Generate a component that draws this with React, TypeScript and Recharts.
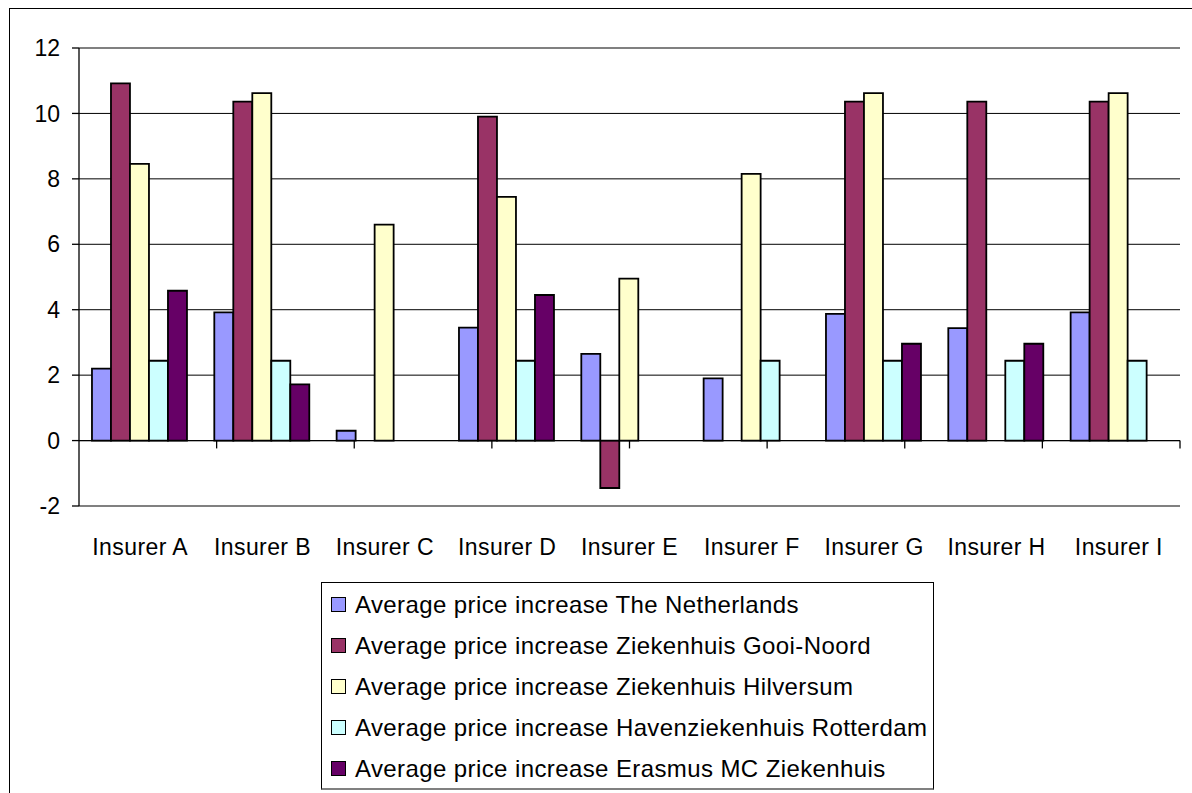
import React from 'react';
import { BarChart, Bar, XAxis, YAxis, CartesianGrid, ReferenceLine, Legend } from 'recharts';

const categories = ['Insurer A', 'Insurer B', 'Insurer C', 'Insurer D', 'Insurer E', 'Insurer F', 'Insurer G', 'Insurer H', 'Insurer I'];
const netherlands = [2.2, 3.92, 0.3, 3.45, 2.65, 1.9, 3.87, 3.44, 3.92];
const gooiNoord = [10.92, 10.36, null, 9.9, -1.45, null, 10.36, 10.36, 10.36];
const hilversum = [8.46, 10.62, 6.6, 7.45, 4.95, 8.15, 10.62, null, 10.62];
const havenziekenhuis = [2.44, 2.44, null, 2.44, null, 2.44, 2.44, 2.44, 2.44];
const erasmus = [4.58, 1.72, null, 4.45, null, null, 2.96, 2.96, null];
const yTicks = [-2, 0, 2, 4, 6, 8, 10, 12];
const boundaries = [1, 2, 3, 4, 5, 6, 7, 8, 9];

const seriesNames = [
  'Average price increase The Netherlands',
  'Average price increase Ziekenhuis Gooi-Noord',
  'Average price increase Ziekenhuis Hilversum',
  'Average price increase Havenziekenhuis Rotterdam',
  'Average price increase Erasmus MC Ziekenhuis',
];
const colors = ['#9999FF', '#993366', '#FFFFCC', '#CCFFFF', '#660066'];

const data = categories.map((c, i) => ({
  name: c,
  s0: netherlands[i],
  s1: gooiNoord[i],
  s2: hilversum[i],
  s3: havenziekenhuis[i],
  s4: erasmus[i],
}));

const FONT = "Arial, 'Liberation Sans', sans-serif";

const LegendContent = (props: any) => {
  const payload = [...(props.payload || [])].sort(
    (a: any, b: any) => seriesNames.indexOf(a.value) - seriesNames.indexOf(b.value)
  );
  return (
    <div
      style={{
        width: 613,
        height: 208,
        boxSizing: 'border-box',
        border: '1px solid #000',
        borderBottom: '2px solid #808080',
        paddingTop: 1,
        background: '#fff',
        fontFamily: FONT,
      }}
    >
      {payload.map((p: any, i: number) => (
        <div key={i} style={{ height: 41, display: 'flex', alignItems: 'center', paddingLeft: 9 }}>
          <span
            style={{
              display: 'inline-block',
              width: 13,
              height: 13,
              background: p.color,
              border: '1px solid #000',
              marginRight: 9,
            }}
          />
          <span style={{ fontSize: 24, letterSpacing: 0.4, color: '#000', lineHeight: '41px', whiteSpace: 'nowrap' }}>
            {p.value}
          </span>
        </div>
      ))}
    </div>
  );
};

export default function App() {
  return (
    <div style={{ position: 'fixed', left: 0, top: 0, width: 1192, height: 793, overflow: 'hidden', background: '#fff' }}>
      <div
        style={{
          position: 'absolute',
          left: 9,
          top: 8,
          width: 1300,
          height: 900,
          border: '1px solid #000',
        }}
      />
      <div style={{ position: 'absolute', left: 0, top: 0 }}>
        <BarChart
          width={1192}
          height={793}
          data={data}
          margin={{ top: 48, right: 12, left: 0, bottom: 257 }}
          barCategoryGap="10.6%"
          barGap={0}
        >
          <CartesianGrid vertical={false} stroke="#000" strokeWidth={1} />
          <XAxis
            dataKey="name"
            height={30}
            axisLine={false}
            tickLine={false}
            tickSize={0}
            tickMargin={33}
            tick={{ fill: '#000', fontSize: 23, fontFamily: FONT, letterSpacing: 0.4 }}
            interval={0}
          />
          <XAxis xAxisId="n" type="number" domain={[0, 9]} hide allowDataOverflow />
          <YAxis
            width={79}
            domain={[-2, 12]}
            ticks={yTicks}
            interval={0}
            allowDataOverflow
            axisLine={{ stroke: '#000', strokeWidth: 1.3 }}
            tickLine={{ stroke: '#000', strokeWidth: 1.3 }}
            tickSize={7}
            tickMargin={12}
            tick={{ fill: '#000', fontSize: 23, fontFamily: FONT }}
          />
          <ReferenceLine y={12} stroke="#808080" strokeWidth={1.5} />
          <ReferenceLine y={-2} stroke="#808080" strokeWidth={2} />
          <ReferenceLine xAxisId="n" x={9} stroke="#808080" strokeWidth={2} />
          {[0, 1, 2, 3, 4].map((k) => (
            <Bar
              key={k}
              dataKey={`s${k}`}
              name={seriesNames[k]}
              fill={colors[k]}
              stroke="#000"
              strokeWidth={1.8}
              isAnimationActive={false}
            />
          ))}
          <ReferenceLine y={0} stroke="#000" strokeWidth={1.3} />
          {boundaries.map((b) => (
            <ReferenceLine
              key={b}
              xAxisId="n"
              segment={[{ x: b, y: 0 }, { x: b, y: -0.24 }]}
              stroke="#000"
              strokeWidth={1.3}
            />
          ))}
          <Legend
            layout="vertical"
            align="center"
            verticalAlign="middle"
            content={<LegendContent />}
            wrapperStyle={{ position: 'absolute', left: 321, top: 582, width: 613, height: 208 }}
          />
        </BarChart>
      </div>
    </div>
  );
}
